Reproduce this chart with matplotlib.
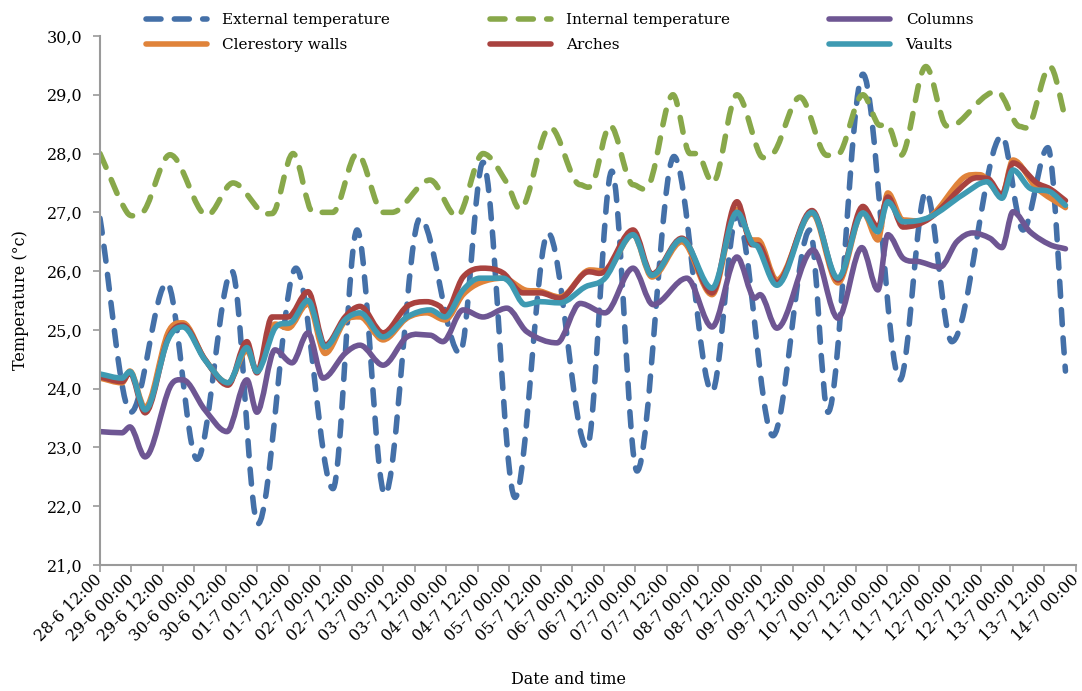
import numpy as np
import matplotlib
matplotlib.use('Agg')
import matplotlib.pyplot as plt
import matplotlib.transforms as mtransforms
from matplotlib.path import Path
from matplotlib.patches import PathPatch
from matplotlib.lines import Line2D

plt.rcParams['font.family'] = ['DejaVu Serif']

# hours since 28-6 12:00, values in °C
t_ext = [0, 11.8, 25.5, 37.0, 50.3, 60.2, 74.7, 88.8, 98.0, 108.6, 122.0, 137.2, 146.0, 158.2,
         170.8, 185.6, 195.1, 204.7, 218.8, 233.3, 242.8, 256.5, 270.6, 277.5, 290.8, 304.9,
         314.8, 324.7, 343.8, 351.8, 361.3, 368]
v_ext = [26.9, 23.6, 25.8, 22.8, 26.0, 21.7, 26.05, 22.3, 26.7, 22.2, 26.9, 24.6, 27.85, 22.15,
         26.65, 23.0, 27.7, 22.6, 27.95, 23.95, 26.95, 23.2, 26.7, 23.6, 29.35, 24.15,
         27.35, 24.8, 28.3, 26.7, 28.1, 24.3]

t_int = [0, 10.3, 15.2, 26.7, 40.8, 50.7, 61.7, 65.6, 73.6, 81.2, 88.8, 98.0, 107.9, 111.3,
         125.8, 136.1, 146.0, 155.1, 160.1, 171.5, 183.0, 187.9, 194.4, 203.2, 209.6, 218.4,
         224.9, 227.5, 233.6, 242.8, 251.6, 255.4, 266.8, 277.1, 280.9, 290.8, 297.3, 300.0,
         305.3, 314.8, 322.8, 325.9, 341.9, 350.7, 354.5, 362.1, 368]
v_int = [28.0, 27.0, 26.97, 27.98, 26.95, 27.5, 27.0, 26.98, 28.0, 27.0, 27.0, 28.0, 27.0, 27.0,
         27.55, 26.93, 28.0, 27.5, 27.05, 28.45, 27.47, 27.5, 28.48, 27.47, 27.5, 29.0,
         28.0, 28.0, 27.5, 29.0, 27.98, 27.97, 28.96, 27.97, 27.97, 29.0, 28.48, 28.5,
         27.97, 29.48, 28.47, 28.48, 29.06, 28.46, 28.5, 29.48, 28.6]

t_col = [0, 8.4, 11.4, 17.2, 26.7, 31.6, 40.0, 48.4, 56.0, 59.8, 66.7, 73.2, 79.3, 85.0, 93.4,
         99.1, 107.9, 117.0, 125.8, 130.7, 138.4, 146.0, 155.1, 162.7, 174.2, 183.0, 192.5,
         203.2, 210.8, 223.7, 233.3, 242.8, 249.6, 251.6, 258.0, 271.8, 281.3, 290.4, 296.5,
         300.3, 306.1, 312.5, 320.2, 326.6, 332.7, 339.2, 343.8, 348.0, 354.5, 362.1, 368]
v_col = [23.27, 23.25, 23.35, 22.84, 24.03, 24.15, 23.64, 23.27, 24.15, 23.6, 24.66, 24.44, 24.95,
         24.18, 24.6, 24.74, 24.4, 24.88, 24.91, 24.8, 25.34, 25.22, 25.37, 24.97, 24.78, 25.45,
         25.29, 26.05, 25.43, 25.88, 25.05, 26.24, 25.54, 25.6, 25.03, 26.36, 25.2, 26.4, 25.68,
         26.62, 26.22, 26.16, 26.07, 26.5, 26.65, 26.56, 26.4, 27.01, 26.67, 26.45, 26.38]

t_cle = [0, 8.4, 11.4, 17.2, 25.9, 31.6, 40.0, 48.8, 56.0, 59.8, 66.7, 71.7, 79.3, 85.8, 93.4,
         99.1, 107.9, 117.0, 124.6, 131.5, 138.4, 144.8, 153.6, 162.0, 167.7, 175.3, 186.8,
         192.5, 203.2, 210.4, 221.8, 233.3, 242.8, 248.5, 250.8, 258.0, 271.4, 281.3, 290.8,
         296.5, 300.3, 306.1, 316.3, 328.9, 335.4, 343.8, 348.0, 357.1, 368]
v_cle = [24.18, 24.1, 24.3, 23.68, 24.95, 25.12, 24.5, 24.1, 24.65, 24.3, 25.1, 25.03, 25.45,
         24.6, 25.15, 25.22, 24.83, 25.2, 25.29, 25.17, 25.6, 25.8, 25.88, 25.68, 25.66, 25.56,
         26.02, 26.0, 26.62, 25.9, 26.5, 25.6, 27.05, 26.53, 26.53, 25.85, 26.98, 25.8, 27.0,
         26.53, 27.33, 26.87, 26.92, 27.58, 27.64, 27.3, 27.89, 27.41, 27.08]

t_arc = [0, 8.4, 11.4, 17.2, 25.9, 31.6, 40.0, 48.8, 56.0, 59.8, 65.6, 71.7, 79.3, 85.8, 93.4,
         99.1, 107.9, 117.0, 124.6, 129.6, 131.5, 138.4, 146.0, 153.6, 161.2, 167.7, 175.3,
         184.9, 192.5, 203.2, 210.4, 221.8, 233.3, 242.8, 248.5, 250.8, 258.0, 271.4, 281.3,
         290.8, 296.5, 300.3, 306.1, 316.3, 331.6, 338.1, 343.8, 348.0, 357.1, 362.1, 368]
v_arc = [24.2, 24.12, 24.27, 23.59, 24.85, 25.08, 24.5, 24.06, 24.8, 24.27, 25.22, 25.22, 25.65,
         24.74, 25.22, 25.4, 24.95, 25.4, 25.48, 25.4, 25.29, 25.9, 26.05, 25.97, 25.63, 25.63,
         25.54, 25.97, 26.0, 26.7, 25.95, 26.56, 25.63, 27.18, 26.45, 26.45, 25.8, 27.03, 25.85,
         27.1, 26.75, 27.26, 26.75, 26.9, 27.55, 27.58, 27.3, 27.84, 27.5, 27.4, 27.2]

t_vau = [0, 8.4, 11.4, 17.2, 25.9, 31.6, 40.0, 48.8, 56.0, 59.8, 66.7, 73.2, 79.3, 85.8, 93.4,
         99.1, 107.9, 117.0, 125.8, 131.5, 138.4, 144.8, 153.6, 156.3, 162.0, 167.7, 175.3,
         184.9, 192.5, 203.2, 210.4, 221.8, 233.3, 242.8, 248.5, 250.8, 258.0, 271.4, 281.3,
         290.8, 296.5, 300.3, 306.1, 316.3, 328.9, 338.1, 343.8, 348.0, 354.5, 362.1, 368]
v_vau = [24.25, 24.18, 24.29, 23.64, 24.83, 25.05, 24.49, 24.1, 24.7, 24.29, 25.03, 25.14, 25.5,
         24.71, 25.17, 25.29, 24.88, 25.22, 25.34, 25.22, 25.68, 25.88, 25.88, 25.8, 25.43, 25.48,
         25.46, 25.73, 25.88, 26.62, 25.93, 26.54, 25.71, 27.0, 26.48, 26.41, 25.76, 27.0, 25.88,
         26.99, 26.67, 27.18, 26.84, 26.92, 27.3, 27.52, 27.24, 27.72, 27.41, 27.35, 27.12]

x_ticklabels = ['28-6 12:00', '29-6 00:00', '29-6 12:00', '30-6 00:00', '30-6 12:00',
                '01-7 00:00', '01-7 12:00', '02-7 00:00', '02-7 12:00', '03-7 00:00',
                '03-7 12:00', '04-7 00:00', '04-7 12:00', '05-7 00:00', '05-7 12:00',
                '06-7 00:00', '06-7 12:00', '07-7 00:00', '07-7 12:00', '08-7 00:00',
                '08-7 12:00', '09-7 00:00', '09-7 12:00', '10-7 00:00', '10-7 12:00',
                '11-7 00:00', '11-7 12:00', '12-7 00:00', '12-7 12:00', '13-7 00:00',
                '13-7 12:00', '14-7 00:00']
y_ticks = [21, 22, 23, 24, 25, 26, 27, 28, 29, 30]


def smooth_path(t, v):
    # smoothed line like the spreadsheet's, drawn as bezier segments through the points
    t = np.asarray(t, float)
    v = np.asarray(v, float)
    d = np.diff(v) / np.diff(t)
    m = np.zeros_like(v)
    m[0], m[-1] = d[0], d[-1]
    for i in range(1, len(v) - 1):
        if d[i - 1] * d[i] > 0:
            m[i] = (v[i + 1] - v[i - 1]) / (t[i + 1] - t[i - 1])
    verts = [(t[0], v[0])]
    codes = [Path.MOVETO]
    for i in range(len(t) - 1):
        h = t[i + 1] - t[i]
        verts += [(t[i] + h / 3, v[i] + m[i] * h / 3),
                  (t[i + 1] - h / 3, v[i + 1] - m[i + 1] * h / 3),
                  (t[i + 1], v[i + 1])]
        codes += [Path.CURVE4] * 3
    return Path(verts, codes)


fig = plt.figure(figsize=(10.82, 6.91), dpi=100)
ax = fig.add_axes([0.0924, 0.1823, 0.902, 0.7656])

lw = 4.0
dash = (0, (2.7, 2.4))
series = [
    (t_ext, v_ext, '#4470A8', dash, 'External temperature'),
    (t_cle, v_cle, '#E0833A', '-', 'Clerestory walls'),
    (t_int, v_int, '#88A84A', dash, 'Internal temperature'),
    (t_arc, v_arc, '#A9423F', '-', 'Arches'),
    (t_col, v_col, '#6E5693', '-', 'Columns'),
    (t_vau, v_vau, '#3E9AB2', '-', 'Vaults'),
]
draw_order = [0, 2, 4, 1, 3, 5]
for i in draw_order:
    t, v, c, ls, name = series[i]
    p = PathPatch(smooth_path(t, v), fill=False, edgecolor=c, linewidth=lw,
                  linestyle=ls, capstyle='round', joinstyle='round')
    ax.add_patch(p)

handles = [Line2D([], [], color=c, lw=lw, linestyle=ls, solid_capstyle='round',
                  dash_capstyle='round') for _, _, c, ls, _ in series]
labels = [s[4] for s in series]
fig.legend(handles, labels, ncol=3, loc='upper left', bbox_to_anchor=(146 / 1082, 1 - 13 / 691),
           frameon=False, fontsize=11, borderpad=0, borderaxespad=0, handlelength=4.0,
           handletextpad=1.0, columnspacing=6.5, labelspacing=0.75)

ax.set_xlim(0, 372)
ax.set_ylim(21, 30)
ax.set_xticks(np.arange(0, 373, 12))
ax.set_xticklabels(x_ticklabels, rotation=45, ha='right', va='center',
                   rotation_mode='anchor', fontsize=11.5)
shift = mtransforms.ScaledTranslation(-5 / 100, -4 / 100, fig.dpi_scale_trans)
for lab in ax.get_xticklabels():
    lab.set_transform(lab.get_transform() + shift)
ax.set_yticks(y_ticks)
ax.set_yticklabels([f'{y:.1f}'.replace('.', ',') for y in y_ticks], fontsize=11.5)

for s in ['top', 'right']:
    ax.spines[s].set_visible(False)
for s in ['left', 'bottom']:
    ax.spines[s].set_color('#9a9a9a')
    ax.spines[s].set_linewidth(1.5)
ax.tick_params(direction='out', length=5, width=1.2, color='#9a9a9a', labelcolor='black')
ax.tick_params(axis='y', pad=7.5)
ax.tick_params(axis='x', pad=4)

ax.set_ylabel('Temperature (°c)', fontsize=11.5)
ax.yaxis.set_label_coords(-0.073, 0.5)
ax.set_xlabel('Date and time', fontsize=11.5)
ax.xaxis.set_label_coords(0.48, -0.201)

fig.savefig('out.png', dpi=100)
